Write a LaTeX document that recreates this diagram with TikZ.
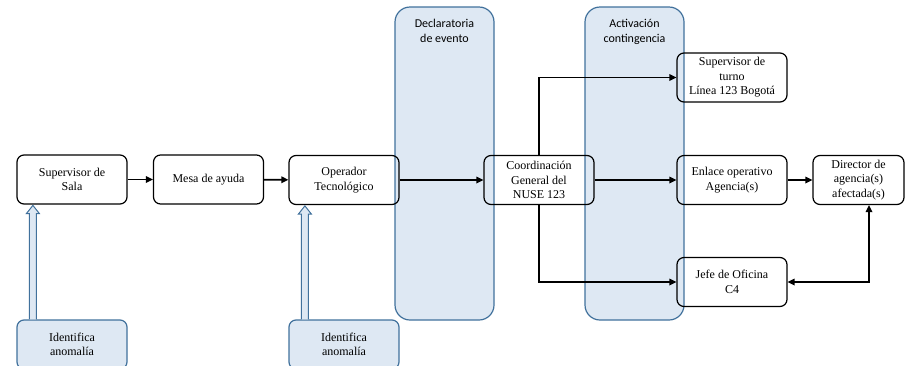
\documentclass[tikz,border=0pt]{standalone}
\usepackage{fontspec}
\setmainfont{Liberation Serif}
\newfontfamily\calib{Carlito}
\usetikzlibrary{arrows.meta,calc}

\definecolor{panelfill}{RGB}{222,232,243}
\definecolor{panelline}{RGB}{65,113,156}

\tikzset{
	box/.style={draw=black,line width=1.2pt,rounded corners=7pt,minimum width=110pt,minimum height=49pt,align=center,font=\fontsize{12}{14.5}\selectfont,inner sep=1pt},
	inbox/.style={box,draw=panelline,fill=panelfill},
	panel/.style={draw=panelline,fill=panelfill,line width=1.2pt,rounded corners=15pt,minimum width=99pt,minimum height=313pt},
	paneltext/.style={align=center,font=\calib\fontsize{12}{15}\selectfont,anchor=north},
	flow/.style={line width=1.6pt,-{Triangle[length=7pt,width=6.5pt]}},
	hollow/.style={draw=panelline,fill=panelfill,line width=1pt}
}

\begin{document}
\begin{tikzpicture}[x=1pt,y=-1pt]
		\useasboundingbox (0,0) rectangle (906,365);
		% paneles de fondo
		\node[panel] (decl) at (444.5,163.5) {};
		\node[panel] (activ) at (634.5,163.5) {};
		\node[paneltext] (decltxt) at ($(decl.north)+(0,9)$) {Declaratoria\\de evento};
		\node[paneltext] (activtxt) at ($(activ.north)+(0,9)$) {Activación\\contingencia};

		\node[box] (sala) at (72,179.5) {Supervisor de\\Sala};
		\node[box] (mesa) at (208.5,179.5) {Mesa de ayuda};
		\node[box] (oper) at (344,180) {Operador\\Tecnológico};
		\node[box] (coord) at (539,180) {Coordinación\\General del\\NUSE 123};
		\node[box] (supt) at (732,77.5) {Supervisor de\\turno\\Línea 123 Bogotá};
		\node[box] (enl) at (732,180) {Enlace operativo\\Agencia(s)};
		\node[box] (jefe) at (732,282) {Jefe de Oficina\\C4};
		\node[box,minimum width=91pt] (dir) at (858.5,180) {Director de\\agencia(s)\\afectada(s)};
		\node[inbox] (ida1) at (72,344.5) {Identifica\\anomalía};
		\node[inbox] (ida2) at (344,344.5) {Identifica\\anomalía};

		\draw[flow] (sala) -- (mesa);
		\draw[flow] (mesa) -- (oper);
		\draw[flow] (oper) -- (coord);
		\draw[flow] (coord.north) |- (supt.west);
		\draw[flow] (coord) -- (enl);
		\draw[flow] (coord.south) |- (jefe.west);
		\draw[flow] (enl) -- (dir);
		\draw[flow,{Triangle[length=7pt,width=6.5pt]}-{Triangle[length=7pt,width=6.5pt]}] (jefe.east) -| ($(dir.south)+(10.5,0)$);

		% flechas huecas
		\foreach \a/\b in {ida1/sala,ida2/oper}
			\draw[hollow] ($(\a.north west)+(13,0)$) -- ($(\b.south west)+(13,9)$) -- ($(\b.south west)+(10,9)$)
				-- ($(\b.south west)+(16.5,0.8)$) -- ($(\b.south west)+(23,9)$) -- ($(\b.south west)+(20,9)$)
				-- ($(\a.north west)+(20,0)$);
		\end{tikzpicture}
\end{document}
